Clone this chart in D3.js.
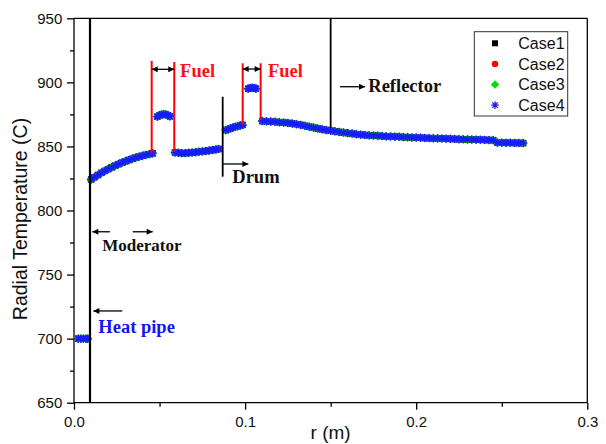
<!DOCTYPE html>
<html><head><meta charset="utf-8">
<script src="https://cdn.jsdelivr.net/npm/d3@7"></script>
<style>body{margin:0;background:#fff}svg{display:block}</style>
</head><body>
<svg id="c" width="606" height="444"></svg>
<script>
// ---------- data ----------
const caseNames = ["Case1", "Case2", "Case3", "Case4"];
const xTicks = [0.0, 0.1, 0.2, 0.3];
const xMinorTicks = [0.05, 0.15, 0.25];
const yTicks = [650, 700, 750, 800, 850, 900, 950];
const yMinorTicks = [675, 725, 775, 825, 875, 925];

const radius = [
  0.0025, 0.0040, 0.0055, 0.0070, 0.0080,
  0.0100, 0.0120, 0.0140, 0.0160, 0.0180, 0.0200, 0.0220, 0.0240, 0.0260, 0.0280,
  0.0300, 0.0320, 0.0340, 0.0360, 0.0380, 0.0400, 0.0420, 0.0440, 0.0460,
  0.0487, 0.0500, 0.0512, 0.0524, 0.0536, 0.0549, 0.0561,
  0.0590, 0.0610, 0.0630, 0.0650, 0.0670, 0.0690, 0.0710, 0.0730, 0.0750, 0.0770,
  0.0790, 0.0810, 0.0830, 0.0845,
  0.0887, 0.0901, 0.0915, 0.0929, 0.0943, 0.0957, 0.0971, 0.0985,
  0.1018, 0.1030, 0.1042, 0.1054, 0.1063,
  0.1100, 0.1125, 0.1150, 0.1175, 0.1200, 0.1225, 0.1250, 0.1275, 0.1300, 0.1325,
  0.1350, 0.1375, 0.1400, 0.1425, 0.1450, 0.1475, 0.1500, 0.1525, 0.1550, 0.1575,
  0.1600, 0.1625, 0.1650, 0.1675, 0.1700, 0.1725, 0.1750, 0.1775, 0.1800, 0.1825,
  0.1850, 0.1875, 0.1900, 0.1925, 0.1950, 0.1975, 0.2000, 0.2025, 0.2050, 0.2075,
  0.2100, 0.2125, 0.2150, 0.2175, 0.2200, 0.2225, 0.2250, 0.2275, 0.2300, 0.2325,
  0.2350, 0.2375, 0.2400, 0.2425, 0.2450, 0.2475, 0.2500, 0.2525, 0.2550, 0.2575,
  0.2600, 0.2625
];
// The four cases coincide in the figure
const temperatureCase1 = [
  700.0, 700.0, 700.0, 700.0, 700.0,
  824.2, 826.0, 827.7, 829.4, 830.9, 832.3, 833.7, 835.0, 836.2, 837.3,
  838.4, 839.4, 840.3, 841.2, 842.0, 842.7, 843.4, 844.0, 844.6,
  873.2, 874.2, 874.9, 875.2, 875.0, 874.4, 873.5,
  845.3, 845.0, 844.8, 844.8, 845.0, 845.2, 845.5, 845.8, 846.1, 846.4,
  846.8, 847.2, 847.6, 848.0,
  862.8, 863.5, 864.1, 864.7, 865.3, 865.8, 866.3, 866.8,
  895.0, 895.6, 895.8, 895.6, 895.0,
  869.8, 869.6, 869.4, 869.2, 868.9, 868.6, 868.3, 867.9, 867.4, 866.8,
  866.1, 865.4, 864.7, 864.0, 863.4, 862.8, 862.3, 861.8, 861.3, 860.8,
  860.4, 860.0, 859.6, 859.2, 858.9, 858.7, 858.5, 858.3, 858.1, 857.9,
  857.8, 857.6, 857.5, 857.3, 857.2, 857.0, 856.9, 856.8, 856.6, 856.5,
  856.4, 856.3, 856.2, 856.0, 855.9, 855.8, 855.7, 855.6, 855.5, 855.4,
  855.3, 855.2, 855.1, 855.0, 854.9, 852.9, 852.9, 852.8, 852.8, 852.7,
  852.7, 852.6
];
const temperatureCase2 = temperatureCase1.slice();
const temperatureCase3 = temperatureCase1.slice();
const temperatureCase4 = temperatureCase1.slice();
const caseTemperatures = [temperatureCase1, temperatureCase2, temperatureCase3, temperatureCase4];

// region boundary lines (r, T from, T to, kind)
const boundaryR = [0.00935, 0.0454, 0.0586, 0.0869, 0.0986, 0.1091, 0.1500];
const boundaryTop = [950, 916.7, 915.9, 888.8, 914.9, 914.9, 950];
const boundaryBottom = [650, 844.6, 845.6, 826.4, 866.7, 870.6, 864.4];
const boundaryKind = ["black", "red", "red", "black", "red", "red", "black"];

// arrows (r from, r to, T, heads)
const arrowFrom = [0.0454, 0.0986, 0.1555, 0.0869, 0.0210, 0.0343, 0.0282];
const arrowTo = [0.0586, 0.1091, 0.1701, 0.1019, 0.0107, 0.0460, 0.0113];
const arrowT = [910.2, 910.4, 896.6, 836.3, 783.4, 783.4, 721.6];
const arrowBoth = [true, true, false, false, false, false, false];

// region labels
const labelText = ["Fuel", "Fuel", "Reflector", "Drum", "Moderator", "Heat pipe"];
const labelR = [0.0620, 0.1134, 0.1720, 0.0925, 0.0165, 0.0142];
const labelT = [904.2, 904.2, 892.1, 821.8, 768.4, 704.4];
const labelKind = ["red", "red", "black", "black", "black", "blue"];

// ---------- styles ----------
const caseColors = ["#000000", "#ff0000", "#00dd00", "#1a1aff"];
const labelColors = {red: "#ff1010", black: "#111", blue: "#1515f0"};
const lineColors = {red: "#ff0000", black: "#000"};

const svg = d3.select("#c");
const W = 606, H = 444;
const mLeft = 74, mRight = 587.3, mTop = 18.3, mBottom = 402.7;
const x = d3.scaleLinear().domain([0, 0.3]).range([mLeft, mRight]);
const y = d3.scaleLinear().domain([650, 950]).range([mBottom, mTop]);

svg.append("rect").attr("width", W).attr("height", H).attr("fill", "#fff");

const sans = "Arial, 'Liberation Sans', sans-serif";
const serif = "'Times New Roman', 'Liberation Serif', serif";

// axes
const xAxis = svg.append("g").attr("transform", `translate(0,${mBottom})`)
  .call(d3.axisBottom(x).tickValues(xTicks).tickFormat(d3.format(".1f")).tickSize(7).tickPadding(6.5));
svg.append("g").attr("transform", `translate(0,${mBottom})`)
  .call(d3.axisBottom(x).tickValues(xMinorTicks).tickFormat("").tickSize(4))
  .select(".domain").remove();
const yAxis = svg.append("g").attr("transform", `translate(${mLeft},0)`)
  .call(d3.axisLeft(y).tickValues(yTicks).tickSize(7).tickPadding(4.7));
svg.append("g").attr("transform", `translate(${mLeft},0)`)
  .call(d3.axisLeft(y).tickValues(yMinorTicks).tickFormat("").tickSize(4))
  .select(".domain").remove();
svg.selectAll(".tick text").attr("font-family", sans).attr("font-size", 15).attr("fill", "#111");
svg.selectAll(".tick line, .domain").attr("stroke", "#000").attr("stroke-width", 1.3);
xAxis.select(".domain").attr("d", `M${mLeft},0H${mRight}`);
yAxis.select(".domain").attr("d", `M0,${mBottom}V${mTop}`);

// top and right frame
svg.append("line").attr("x1", mLeft).attr("x2", mRight).attr("y1", mTop).attr("y2", mTop)
  .attr("stroke", "#000").attr("stroke-width", 1.3);
svg.append("line").attr("x1", mRight).attr("x2", mRight).attr("y1", mTop).attr("y2", mBottom)
  .attr("stroke", "#000").attr("stroke-width", 1.3);

// axis titles
svg.append("text").attr("x", (mLeft + mRight) / 2).attr("y", 439).attr("text-anchor", "middle")
  .attr("font-family", sans).attr("font-size", 19).attr("fill", "#111").text("r (m)");
svg.append("text").attr("transform", `translate(27,219) rotate(-90)`).attr("text-anchor", "middle")
  .attr("font-family", sans).attr("font-size", 19.5).attr("fill", "#111").text("Radial Temperature (C)");

// markers
const markerPath = [
  s => `M${-s},${-s}H${s}V${s}H${-s}Z`,
  s => `M${-s},0A${s},${s} 0 1,0 ${s},0A${s},${s} 0 1,0 ${-s},0Z`,
  s => `M0,${-s}L${s},0L0,${s}L${-s},0Z`,
  s => { const k = s * 0.72; return `M${-s},0H${s}M0,${-s}V${s}M${-k},${-k}L${k},${k}M${-k},${k}L${k},${-k}`; }
];
const markerSize = [3.2, 3.4, 4.6, 4.0];

const plot = svg.append("g");
caseNames.forEach((name, ci) => {
  const pts = radius.map((r, i) => [r, caseTemperatures[ci][i]]);
  const g = plot.append("g");
  g.selectAll("path").data(pts).join("path")
    .attr("transform", d => `translate(${x(d[0])},${y(d[1])})`)
    .attr("d", markerPath[ci](markerSize[ci]))
    .attr("fill", ci === 3 ? "none" : caseColors[ci])
    .attr("stroke", ci === 3 ? caseColors[ci] : "none")
    .attr("stroke-width", ci === 3 ? 1.5 : 0);
});

// boundary lines
boundaryR.forEach((r, i) => {
  svg.append("line").attr("x1", x(r)).attr("x2", x(r))
    .attr("y1", y(boundaryTop[i])).attr("y2", y(boundaryBottom[i]))
    .attr("stroke", lineColors[boundaryKind[i]])
    .attr("stroke-width", boundaryKind[i] === "red" ? 2 : (i === 0 ? 2.2 : 1.8));
});

// arrows
const defs = svg.append("defs");
defs.append("marker").attr("id", "ah").attr("viewBox", "0 0 10 10").attr("refX", 10).attr("refY", 5)
  .attr("markerWidth", 10).attr("markerHeight", 6).attr("markerUnits", "userSpaceOnUse").attr("orient", "auto")
  .append("path").attr("d", "M0,0L10,5L0,10Z").attr("fill", "#000");
defs.append("marker").attr("id", "ahs").attr("viewBox", "0 0 10 10").attr("refX", 0).attr("refY", 5)
  .attr("markerWidth", 10).attr("markerHeight", 6).attr("markerUnits", "userSpaceOnUse").attr("orient", "auto")
  .append("path").attr("d", "M10,0L0,5L10,10Z").attr("fill", "#000");
arrowFrom.forEach((r0, i) => {
  const l = svg.append("line").attr("x1", x(r0)).attr("x2", x(arrowTo[i]))
    .attr("y1", y(arrowT[i])).attr("y2", y(arrowT[i]))
    .attr("stroke", "#000").attr("stroke-width", 1.3)
    .attr("marker-end", "url(#ah)");
  if (arrowBoth[i]) l.attr("marker-start", "url(#ahs)");
});

// labels
labelText.forEach((t, i) => {
  svg.append("text").attr("x", x(labelR[i])).attr("y", y(labelT[i]))
    .attr("font-family", serif).attr("font-weight", "bold")
    .attr("font-size", t === "Moderator" ? 17 : 18.5)
    .attr("fill", labelColors[labelKind[i]]).text(t);
});

// legend
const lg = svg.append("g");
lg.append("rect").attr("x", 474.3).attr("y", 31.7).attr("width", 93.4).attr("height", 84.3)
  .attr("fill", "#fff").attr("stroke", "#333").attr("stroke-width", 1);
const legendSize = [3, 3.2, 4.2, 3.8];
caseNames.forEach((name, ci) => {
  const yy = 43.3 + ci * 20.6;
  lg.append("path").attr("transform", `translate(495,${yy})`)
    .attr("d", markerPath[ci](legendSize[ci]))
    .attr("fill", ci === 3 ? "none" : caseColors[ci])
    .attr("stroke", ci === 3 ? caseColors[ci] : "none")
    .attr("stroke-width", ci === 3 ? 1.3 : 0);
  lg.append("text").attr("x", 518.3).attr("y", yy).attr("dy", "0.36em")
    .attr("font-family", sans).attr("font-size", 16).attr("fill", "#111").text(name);
});
</script>
</body></html>
